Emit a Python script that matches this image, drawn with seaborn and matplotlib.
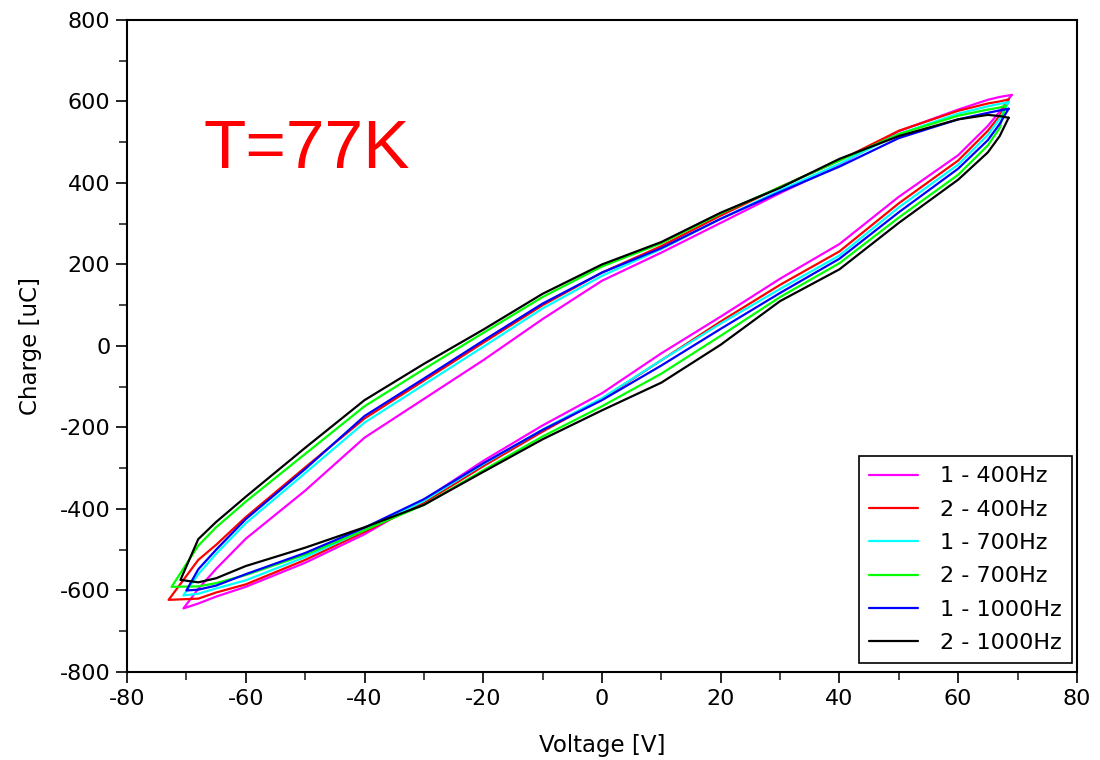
import pandas as pd
import seaborn as sns
import matplotlib.pyplot as plt
from matplotlib.ticker import MultipleLocator

# Voltage grid used for both loop branches (V)
v_grid = [-68, -65, -60, -50, -40, -30, -20, -10, 0, 10, 20, 30, 40, 50, 60, 65, 67]

series_names = ["1 - 400Hz", "2 - 400Hz", "1 - 700Hz", "2 - 700Hz", "1 - 1000Hz", "2 - 1000Hz"]
series_colors = ["#ff00ff", "#ff0000", "#00ffff", "#00ff00", "#0000ff", "#000000"]

# loop tips: (V, Q) at positive and negative extremes
tip_hi = {
    "1 - 400Hz": (69.0, 616), "2 - 400Hz": (68.5, 605), "1 - 700Hz": (68.5, 598),
    "2 - 700Hz": (68.0, 590), "1 - 1000Hz": (68.5, 582), "2 - 1000Hz": (68.5, 560),
}
tip_lo = {
    "1 - 400Hz": (-70.5, -644), "2 - 400Hz": (-73.0, -623), "1 - 700Hz": (-70.5, -612),
    "2 - 700Hz": (-72.5, -591), "1 - 1000Hz": (-70.0, -600), "2 - 1000Hz": (-71.0, -574),
}

# charge on the upper (decreasing voltage) branch, on v_grid
q_upper = {
    "1 - 400Hz": [-596, -547, -473, -355, -225, -130, -35, 66, 160, 229, 302, 375, 444, 527, 580, 604, 611],
    "2 - 400Hz": [-525, -488, -420, -298, -178, -85, 8, 100, 180, 245, 320, 390, 455, 528, 577, 595, 600],
    "1 - 700Hz": [-560, -510, -435, -312, -188, -95, -2, 92, 172, 238, 312, 382, 447, 520, 570, 588, 594],
    "2 - 700Hz": [-490, -445, -382, -265, -148, -57, 32, 120, 195, 252, 325, 390, 455, 520, 565, 580, 585],
    "1 - 1000Hz": [-548, -500, -425, -302, -172, -80, 13, 104, 180, 240, 312, 378, 440, 510, 556, 572, 578],
    "2 - 1000Hz": [-474, -432, -370, -250, -133, -44, 40, 128, 200, 255, 327, 388, 459, 515, 556, 567, 564],
}

# charge on the lower (increasing voltage) branch, on v_grid
q_lower = {
    "1 - 400Hz": [-632, -615, -591, -532, -462, -378, -282, -195, -116, -18, 72, 165, 250, 366, 468, 540, 575],
    "2 - 400Hz": [-620, -605, -585, -525, -456, -385, -295, -210, -130, -35, 60, 150, 232, 350, 455, 528, 565],
    "1 - 700Hz": [-608, -595, -575, -518, -452, -380, -290, -205, -128, -35, 55, 140, 222, 340, 445, 518, 558],
    "2 - 700Hz": [-590, -582, -562, -512, -452, -390, -305, -222, -148, -68, 25, 120, 203, 315, 420, 492, 535],
    "1 - 1000Hz": [-598, -588, -560, -508, -446, -376, -288, -206, -133, -48, 42, 130, 214, 328, 435, 505, 545],
    "2 - 1000Hz": [-580, -570, -540, -495, -445, -390, -309, -229, -158, -90, 3, 110, 188, 302, 408, 475, 515],
}

rows = []
for name in series_names:
    v_loop = [tip_hi[name][0]] + v_grid[::-1] + [tip_lo[name][0]] + v_grid + [tip_hi[name][0]]
    q_loop = [tip_hi[name][1]] + q_upper[name][::-1] + [tip_lo[name][1]] + q_lower[name] + [tip_hi[name][1]]
    for v, q in zip(v_loop, q_loop):
        rows.append({"Voltage": v, "Charge": q, "series": name})
df = pd.DataFrame(rows)

sns.set_theme(style="ticks")
plt.rcParams['font.family'] = ['DejaVu Sans']
plt.rcParams['axes.unicode_minus'] = False
plt.rcParams['text.color'] = 'black'
plt.rcParams['axes.labelcolor'] = 'black'

fig = plt.figure(figsize=(11, 7.6), dpi=100)
ax = fig.add_axes([0.1155, 0.1158, 0.8635, 0.858])

sns.lineplot(data=df, x="Voltage", y="Charge", hue="series", hue_order=series_names,
             palette=dict(zip(series_names, series_colors)), sort=False,
             estimator=None, linewidth=1.6, ax=ax)

ax.set_xlim(-80, 80)
ax.set_ylim(-800, 800)
ax.xaxis.set_major_locator(MultipleLocator(20))
ax.xaxis.set_minor_locator(MultipleLocator(10))
ax.yaxis.set_major_locator(MultipleLocator(200))
ax.yaxis.set_minor_locator(MultipleLocator(100))
ax.tick_params(which="major", length=8, width=1.2, direction="out", labelsize=16,
               colors="black", pad=4)
ax.tick_params(which="minor", length=6, width=1.2, direction="out")
for sp in ax.spines.values():
    sp.set_linewidth(1.5)
    sp.set_color("black")

ax.set_xlabel("Voltage [V]", fontsize=16.5, labelpad=18)
ax.set_ylabel("Charge [uC]", fontsize=16.5, labelpad=13)

ax.text(-67.2, 437, "T=77K", color="red", fontsize=50, family="Liberation Sans",
        ha="left", va="baseline")

handles, labels = ax.get_legend_handles_labels()
leg = ax.legend(handles, labels, loc="lower right", bbox_to_anchor=(0.9947, 0.0138),
                fontsize=16, frameon=True, fancybox=False, framealpha=1,
                edgecolor="black", handlelength=2.2, labelspacing=0.6,
                borderaxespad=0, handletextpad=1.0, borderpad=0.45)
leg.get_frame().set_linewidth(1.2)
for line in leg.get_lines():
    line.set_linewidth(1.6)

fig.savefig("out.png", dpi=100)
